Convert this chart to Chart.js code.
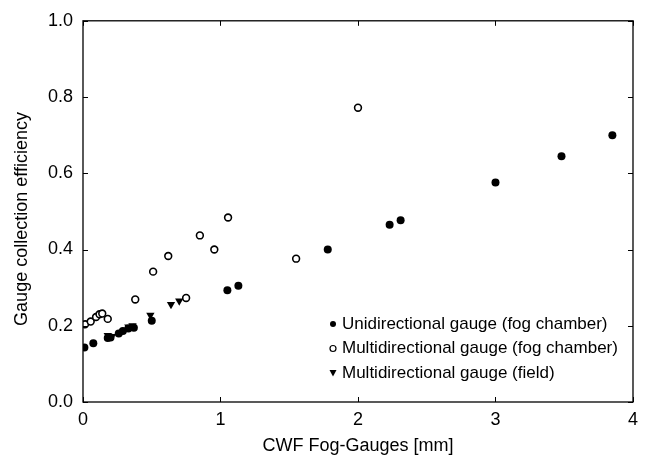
<!DOCTYPE html>
<html>
<head>
<meta charset="utf-8">
<script src="https://cdn.jsdelivr.net/npm/chart.js@4"></script>
<style>
  html, body { margin: 0; padding: 0; background: #fff; }
  #wrap { width: 645px; height: 461px; position: relative; }
</style>
</head>
<body>
<div id="wrap"><canvas id="chart"></canvas></div>
<script>
(function () {
  "use strict";

  // data: [CWF mm, efficiency]
  var uniChamber = [
    [0.01, 0.143], [0.075, 0.154], [0.18, 0.168], [0.2, 0.169],
    [0.26, 0.18], [0.29, 0.186], [0.33, 0.193], [0.37, 0.195],
    [0.5, 0.213], [1.05, 0.293], [1.13, 0.305], [1.78, 0.40],
    [2.23, 0.465], [2.31, 0.477], [3.0, 0.576], [3.48, 0.645], [3.85, 0.70]
  ];
  var multiChamber = [
    [0.015, 0.204], [0.056, 0.211], [0.095, 0.223], [0.12, 0.23],
    [0.14, 0.232], [0.18, 0.218], [0.38, 0.269], [0.51, 0.342],
    [0.62, 0.383], [0.75, 0.273], [0.85, 0.437], [0.955, 0.40],
    [1.055, 0.484], [1.55, 0.376], [2.0, 0.772]
  ];
  var multiField = [
    [0.18, 0.175], [0.21, 0.172], [0.33, 0.197], [0.36, 0.2],
    [0.49, 0.228], [0.64, 0.256], [0.70, 0.265]
  ];
  var seriesLabels = [
    "Unidirectional gauge (fog chamber)",
    "Multidirectional gauge (fog chamber)",
    "Multidirectional gauge (field)"
  ];
  var xTicks = [0, 1, 2, 3, 4];
  var yTicks = [0, 0.2, 0.4, 0.6, 0.8, 1.0];
  var yTitle = "Gauge collection efficiency";

  var fontFamily = "'Liberation Sans', Arial, Helvetica, sans-serif";

  function toPoints(arr) {
    return arr.map(function (p) { return { x: p[0], y: p[1] }; });
  }

  // box, inward ticks, y title and in-plot legend
  var framePlugin = {
    id: "frame",
    afterDraw: function (chart) {
      var ctx = chart.ctx;
      var a = chart.chartArea;
      var xs = chart.scales.x;
      var ys = chart.scales.y;
      ctx.save();
      ctx.strokeStyle = "#000";
      ctx.lineWidth = 1.3;
      ctx.strokeRect(a.left, a.top, a.right - a.left, a.bottom - a.top);
      ctx.lineWidth = 1;
      var len = 5;
      xTicks.forEach(function (v) {
        var px = Math.round(xs.getPixelForValue(v)) + 0.5;
        ctx.beginPath();
        ctx.moveTo(px, a.bottom); ctx.lineTo(px, a.bottom - len);
        ctx.moveTo(px, a.top); ctx.lineTo(px, a.top + len);
        ctx.stroke();
      });
      yTicks.forEach(function (v) {
        var py = Math.round(ys.getPixelForValue(v)) + 0.5;
        ctx.beginPath();
        ctx.moveTo(a.left, py); ctx.lineTo(a.left + len, py);
        ctx.moveTo(a.right, py); ctx.lineTo(a.right - len, py);
        ctx.stroke();
      });

      ctx.fillStyle = "#000";

      // y axis title, sits a little below the plot's middle
      ctx.save();
      ctx.font = "18px " + fontFamily;
      ctx.textAlign = "center";
      ctx.textBaseline = "middle";
      ctx.translate(22, 219);
      ctx.rotate(-Math.PI / 2);
      ctx.fillText(yTitle, 0, 0);
      ctx.restore();

      // legend
      var lx = 333, ly = 324, gap = 24.5;
      ctx.font = "17px " + fontFamily;
      ctx.textAlign = "left";
      ctx.textBaseline = "middle";
      chart.data.datasets.forEach(function (ds, i) {
        var y = ly + i * gap;
        ctx.beginPath();
        if (ds.pointStyle === "triangle") {
          ctx.moveTo(lx - 3.5, y - 3);
          ctx.lineTo(lx + 3.5, y - 3);
          ctx.lineTo(lx, y + 3.5);
          ctx.closePath();
          ctx.fill();
        } else {
          ctx.arc(lx, y, 3, 0, Math.PI * 2);
          if (ds.backgroundColor === "#fff") {
            ctx.lineWidth = 1.2;
            ctx.stroke();
          } else {
            ctx.fill();
          }
        }
        ctx.fillText(ds.label, lx + 9, y);
      });
      ctx.restore();
    }
  };

  new Chart(document.getElementById("chart"), {
    type: "scatter",
    data: {
      datasets: [
        {
          label: seriesLabels[0],
          data: toPoints(uniChamber),
          pointStyle: "circle",
          pointRadius: 4,
          backgroundColor: "#000",
          borderColor: "#000",
          borderWidth: 0
        },
        {
          label: seriesLabels[1],
          data: toPoints(multiChamber),
          pointStyle: "circle",
          pointRadius: 3.4,
          backgroundColor: "#fff",
          borderColor: "#000",
          borderWidth: 1.6
        },
        {
          label: seriesLabels[2],
          data: toPoints(multiField),
          pointStyle: "triangle",
          pointRadius: 4.8,
          rotation: 180,
          backgroundColor: "#000",
          borderColor: "#000",
          borderWidth: 0
        }
      ]
    },
    options: {
      responsive: true,
      maintainAspectRatio: false,
      animation: false,
      layout: { padding: { top: 16, right: 12, left: 0, bottom: 0 } },
      plugins: {
        legend: { display: false },
        tooltip: { enabled: false }
      },
      scales: {
        x: {
          type: "linear",
          min: 0,
          max: 4,
          afterFit: function (scale) { scale.height = 59; },
          afterBuildTicks: function (scale) {
            scale.ticks = xTicks.map(function (v) { return { value: v }; });
          },
          grid: { display: false, drawTicks: false },
          border: { display: false },
          ticks: {
            color: "#000",
            padding: 7,
            maxRotation: 0,
            font: { family: fontFamily, size: 18 },
            callback: function (v) { return String(v); }
          },
          title: {
            display: true,
            text: "CWF Fog-Gauges [mm]",
            color: "#000",
            font: { family: fontFamily, size: 18 },
            padding: { top: 8 }
          }
        },
        y: {
          type: "linear",
          min: 0,
          max: 1,
          afterFit: function (scale) { scale.width = 83; },
          afterBuildTicks: function (scale) {
            scale.ticks = yTicks.map(function (v) { return { value: v }; });
          },
          grid: { display: false, drawTicks: false },
          border: { display: false },
          ticks: {
            color: "#000",
            padding: 10,
            font: { family: fontFamily, size: 18 },
            callback: function (v) { return v.toFixed(1); }
          }
        }
      }
    },
    plugins: [framePlugin]
  });
})();
</script>
</body>
</html>
